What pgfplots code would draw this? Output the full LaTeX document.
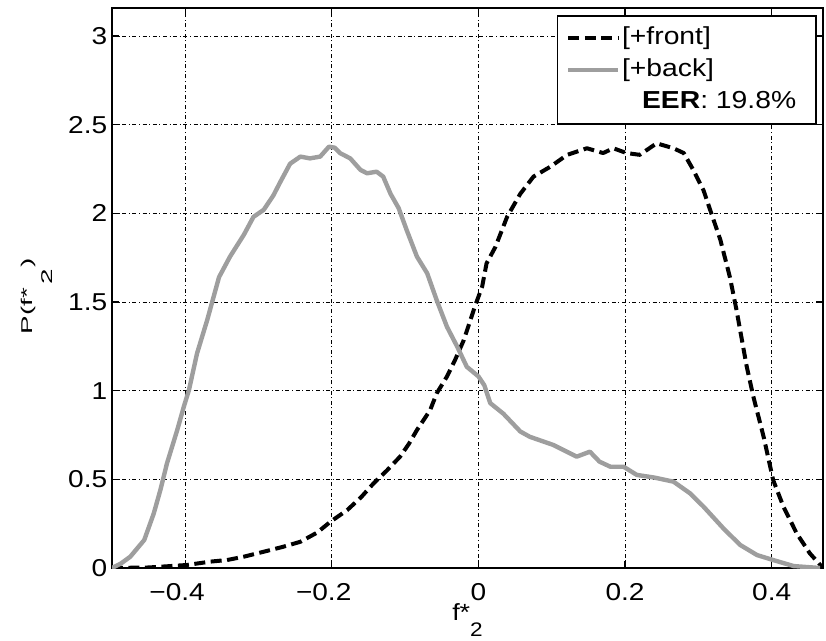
\documentclass[border=0pt]{standalone}
\usepackage{fontspec}
\setmainfont{Liberation Sans}[FakeStretch=1.15]
\usepackage{graphicx}
\usepackage{pgfplots}
\pgfplotsset{compat=1.18}
\usetikzlibrary{calc}

\newcommand{\tickfont}{\fontsize{12.2bp}{14bp}\selectfont}
\definecolor{backgray}{rgb}{0.62,0.62,0.62}

% Score densities of the two classes
\pgfplotstableread{
x      y
-0.500 0.000
-0.450 0.003
-0.398 0.017
-0.366 0.036
-0.343 0.045
-0.320 0.064
-0.293 0.092
-0.268 0.118
-0.243 0.148
-0.220 0.200
-0.202 0.261
-0.179 0.327
-0.160 0.400
-0.143 0.478
-0.125 0.550
-0.107 0.628
-0.095 0.700
-0.084 0.778
-0.066 0.890
-0.057 0.985
-0.043 1.080
-0.032 1.173
-0.020 1.286
-0.005 1.474
 0.005 1.587
 0.011 1.718
 0.023 1.810
 0.039 1.980
 0.057 2.110
 0.075 2.207
 0.098 2.263
 0.121 2.330
 0.148 2.367
 0.170 2.340
 0.184 2.367
 0.202 2.340
 0.220 2.330
 0.243 2.395
 0.266 2.367
 0.280 2.340
 0.293 2.245
 0.307 2.130
 0.316 2.020
 0.330 1.850
 0.343 1.640
 0.352 1.455
 0.357 1.340
 0.366 1.135
 0.375 0.966
 0.389 0.740
 0.402 0.496
 0.416 0.346
 0.434 0.196
 0.452 0.083
 0.470 0.000
}\front

\pgfplotstableread{
x      y
-0.500 0.000
-0.488 0.025
-0.475 0.064
-0.456 0.158
-0.443 0.308
-0.434 0.440
-0.425 0.590
-0.411 0.778
-0.402 0.910
-0.395 1.004
-0.384 1.210
-0.370 1.400
-0.354 1.640
-0.339 1.756
-0.320 1.880
-0.307 1.980
-0.293 2.020
-0.280 2.100
-0.270 2.180
-0.257 2.280
-0.243 2.320
-0.230 2.310
-0.216 2.320
-0.204 2.376
-0.196 2.370
-0.189 2.340
-0.175 2.310
-0.161 2.245
-0.152 2.226
-0.139 2.235
-0.130 2.207
-0.120 2.110
-0.109 2.030
-0.098 1.906
-0.084 1.756
-0.070 1.662
-0.057 1.510
-0.043 1.360
-0.029 1.248
-0.016 1.135
 0.000 1.080
 0.008 1.030
 0.016 0.930
 0.034 0.870
 0.057 0.770
 0.070 0.740
 0.102 0.694
 0.134 0.628
 0.152 0.656
 0.165 0.600
 0.180 0.571
 0.198 0.571
 0.216 0.525
 0.240 0.510
 0.266 0.487
 0.289 0.420
 0.307 0.346
 0.334 0.224
 0.357 0.130
 0.380 0.073
 0.402 0.045
 0.430 0.011
 0.466 0.000
}\back

\begin{document}
\begin{tikzpicture}
\begin{axis}[
  scale only axis,
  width=355.5bp, height=280bp,
  xmin=-0.5, xmax=0.47, ymin=0, ymax=3.158,
  xtick={-0.4,-0.2,0,0.2,0.4},
  xticklabels={\llap{−}0.4,\llap{−}0.2,0,0.2,0.4},
  ytick={0,0.5,1,1.5,2,2.5,3},
  yticklabels={0,0.5,1,1.5,2,2.5,3},
  tick align=inside,
  major tick length=3.5bp,
  tick style={black, line width=0.6bp},
  axis line style={black, line width=0.8bp},
  grid=major,
  major grid style={black, line width=0.45bp, dash pattern=on 2bp off 1.3bp on 0.5bp off 1.3bp},
  ticklabel style={font=\tickfont, inner sep=0pt},
  xticklabel style={anchor=north, yshift=-7.5bp},
  yticklabel style={anchor=east, xshift=-2.2bp},
  every axis x label/.style={at={(axis description cs:0.5,0)}, anchor=base, yshift=-26bp,
    font=\fontsize{11.7bp}{13bp}\selectfont},
  every axis y label/.style={at={(axis description cs:-0.1115,0.485)}, anchor=base,
    rotate=90, font=\fontsize{7.8bp}{9bp}\selectfont},
  xlabel={f*\raisebox{-8.3bp}{\fontsize{9.8bp}{11bp}\selectfont 2}},
  ylabel={\scalebox{1.55}[1]{P(f*\kern1bp\raisebox{-10bp}{2}\kern0.5bp)}},
  legend cell align=left,
  legend image code/.code={\draw[#1] (0bp,0bp) -- (25bp,0bp);},
  legend style={
    at={(rel axis cs:1,1)}, anchor=north east, xshift=-3bp, yshift=-3.6bp,
    draw=black, line width=0.8bp, fill=white,
    inner xsep=4.3bp, inner ysep=5bp,
    row sep=4bp, column sep=0.8bp,
    font=\fontsize{12.3bp}{14bp}\selectfont,
    nodes={inner sep=0pt, text height=9bp, text depth=3bp},
  },
]
\addplot[black, line width=2bp, line join=round, dash pattern=on 5.5bp off 2.75bp] table {\front};
\addlegendentry{[+front]}
\addplot[backgray, line width=2.2bp, line join=round] table {\back};
\addlegendentry{[+back]}
\addlegendimage{empty legend}
\addlegendentry{\hspace*{10bp}\textbf{EER}: 19.8\%\hspace*{5.7bp}}
\coordinate (sw) at (rel axis cs:0,0);
\coordinate (ne) at (rel axis cs:1,1);
\end{axis}
\pgfresetboundingbox
\path ($(sw)+(-56bp,-36bp)$) rectangle ($(ne)+(1.5bp,4bp)$);
\end{tikzpicture}
\end{document}
